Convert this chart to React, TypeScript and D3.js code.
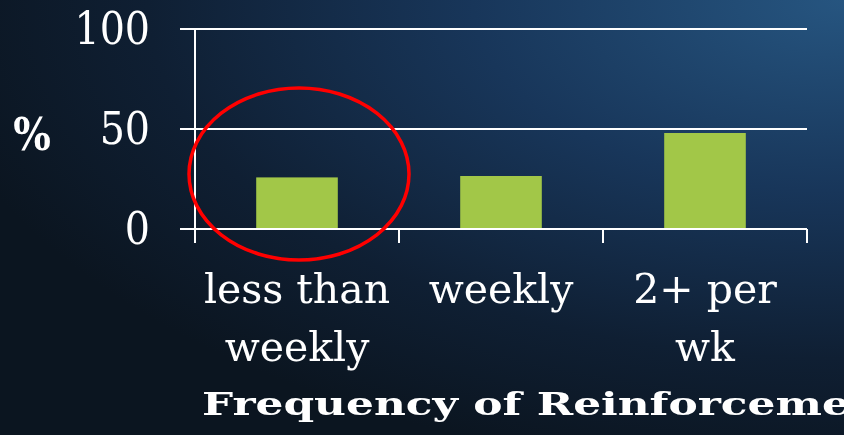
import { useEffect, useRef } from "react";
import * as d3 from "d3";

// chart data
const categories = ["less than weekly", "weekly", "2+ per wk"];
const categoryLines = [["less than", "weekly"], ["weekly"], ["2+ per", "wk"]];
const percents = [25.8, 26.5, 48];
const yTicks = [0, 50, 100];
const xTitle = "Frequency of Reinforcement";
const yTitle = "%";

export default function App() {
  const svgRef = useRef<SVGSVGElement>(null);

  useEffect(() => {
    const width = 844,
      height = 435;
    const marginLeft = 195,
      marginRight = 37,
      marginTop = 29,
      plotBottom = 229;

    const svg = d3.select(svgRef.current).attr("width", width).attr("height", height);
    svg.selectAll("*").remove();

    // background: dark navy, lighter towards top right
    const defs = svg.append("defs");
    const grad = defs
      .append("radialGradient")
      .attr("id", "bg")
      .attr("cx", "100%")
      .attr("cy", "0%")
      .attr("r", "110%");
    grad.append("stop").attr("offset", "0%").attr("stop-color", "#265580");
    grad.append("stop").attr("offset", "40%").attr("stop-color", "#18365a");
    grad.append("stop").attr("offset", "75%").attr("stop-color", "#0f1f33");
    grad.append("stop").attr("offset", "100%").attr("stop-color", "#0b1520");
    svg.append("rect").attr("width", width).attr("height", height).attr("fill", "url(#bg)");

    const x = d3
      .scaleBand()
      .domain(categories)
      .range([marginLeft, width - marginRight])
      .paddingInner(0.6)
      .paddingOuter(0.3);

    const y = d3.scaleLinear().domain([0, 100]).range([plotBottom, marginTop]);

    const font = "'DejaVu Serif', serif";
    const condensed = "'DejaVu Serif Condensed', 'DejaVu Serif', serif";

    // gridlines with left ticks
    svg
      .append("g")
      .selectAll("line")
      .data(yTicks)
      .join("line")
      .attr("x1", marginLeft - 15)
      .attr("x2", width - marginRight)
      .attr("y1", (d) => y(d))
      .attr("y2", (d) => y(d))
      .attr("stroke", "#ffffff")
      .attr("stroke-width", 2);

    // y axis line
    svg
      .append("line")
      .attr("x1", marginLeft)
      .attr("x2", marginLeft)
      .attr("y1", y(100))
      .attr("y2", plotBottom + 14)
      .attr("stroke", "#ffffff")
      .attr("stroke-width", 2);

    // x category boundary ticks
    const step = x.step();
    const bounds = d3.range(categories.length + 1).map((i) => marginLeft + i * step);
    svg
      .append("g")
      .selectAll("line")
      .data(bounds.slice(1))
      .join("line")
      .attr("x1", (d) => d)
      .attr("x2", (d) => d)
      .attr("y1", plotBottom)
      .attr("y2", plotBottom + 14)
      .attr("stroke", "#ffffff")
      .attr("stroke-width", 2);

    // y tick labels
    svg
      .append("g")
      .selectAll("text")
      .data(yTicks)
      .join("text")
      .attr("x", 150)
      .attr("y", (d) => y(d) + 15)
      .attr("text-anchor", "end")
      .attr("fill", "#ffffff")
      .attr("font-family", condensed)
      .attr("font-stretch", "condensed")
      .attr("font-size", 44)
      .text((d) => d);

    // y title
    svg
      .append("text")
      .attr("x", 32)
      .attr("y", 150)
      .attr("text-anchor", "middle")
      .attr("fill", "#ffffff")
      .attr("font-family", condensed)
      .attr("font-stretch", "condensed")
      .attr("font-weight", "bold")
      .attr("font-size", 44)
      .text(yTitle);

    // bars
    svg
      .append("g")
      .selectAll("rect")
      .data(percents)
      .join("rect")
      .attr("x", (_, i) => x(categories[i])!)
      .attr("y", (d) => y(d))
      .attr("width", x.bandwidth())
      .attr("height", (d) => plotBottom - y(d) - 1)
      .attr("fill", "#a2c748");

    // category labels
    const labels = svg
      .append("g")
      .selectAll("text")
      .data(categoryLines)
      .join("text")
      .attr("text-anchor", "middle")
      .attr("fill", "#ffffff")
      .attr("font-family", font)
      .attr("font-size", 41)
      .attr("x", (_, i) => x(categories[i])! + x.bandwidth() / 2);
    labels
      .selectAll("tspan")
      .data((d) => d)
      .join("tspan")
      .attr("x", function () {
        return (this.parentNode as SVGTextElement).getAttribute("x");
      })
      .attr("y", (_, j) => 303 + j * 58)
      .text((d) => d);

    // x title (wide slab bold, runs off the right edge)
    svg
      .append("text")
      .attr("x", 202)
      .attr("y", 415)
      .attr("fill", "#ffffff")
      .attr("font-family", font)
      .attr("font-weight", "bold")
      .attr("font-size", 31)
      .attr("textLength", 700)
      .attr("lengthAdjust", "spacingAndGlyphs")
      .text(xTitle);

    // red highlight ellipse around first bar
    svg
      .append("ellipse")
      .attr("cx", x(categories[0])! + x.bandwidth() / 2 + 2)
      .attr("cy", 174)
      .attr("rx", 110)
      .attr("ry", 86)
      .attr("fill", "none")
      .attr("stroke", "#ff0000")
      .attr("stroke-width", 3.5);
  }, []);

  return (
    <div style={{ position: "fixed", left: 0, top: 0 }}>
      <svg ref={svgRef} style={{ display: "block" }}></svg>
    </div>
  );
}
